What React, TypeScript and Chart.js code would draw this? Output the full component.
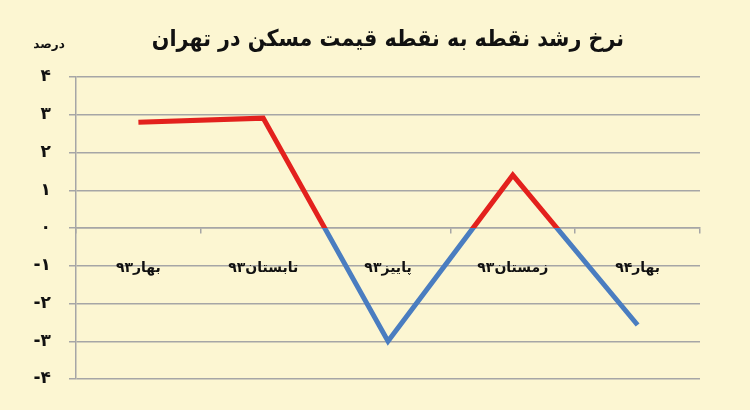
import { useEffect, useRef } from 'react';
import { Chart, registerables } from 'chart.js';

Chart.register(...registerables);

const title = 'نرخ رشد نقطه به نقطه قیمت مسکن در تهران';
const unitLabel = 'درصد';
const quarters = ['بهار۹۳', 'تابستان۹۳', 'پاییز۹۳', 'زمستان۹۳', 'بهار۹۴'];
const growth = [2.8, 2.91, -3.0, 1.4, -2.57];
const persianDigits = ['۰', '۱', '۲', '۳', '۴', '۵', '۶', '۷', '۸', '۹'];

const BG = '#fcf6d2';
const RED = '#e3211d';
const BLUE = '#4a7dc0';
const GRID = '#a6a6a6';
const FONT = "'DejaVu Sans', sans-serif";
const TITLE_FONT = "'DejaVu Sans Condensed', 'DejaVu Sans', sans-serif";

const toPersian = (v: number) => {
  const s = String(Math.abs(v)).replace(/[0-9]/g, d => persianDigits[+d]);
  return v < 0 ? '-' + s : s;
};

// title + unit text drawn relative to the plot area
const textPlugin = {
  id: 'headerText',
  afterDraw(chart: Chart) {
    const { ctx, chartArea } = chart;
    ctx.save();
    ctx.fillStyle = '#111';
    ctx.textAlign = 'center';
    ctx.textBaseline = 'middle';
    ctx.font = `bold 23px ${TITLE_FONT}`;
    ctx.fillText(title, (chartArea.left + chartArea.right) / 2, 40);
    ctx.font = `bold 12px ${FONT}`;
    ctx.fillText(unitLabel, 49, 45);
    ctx.restore();
  },
};

export default function App() {
  const chartRef = useRef<HTMLCanvasElement>(null);
  const chartInstance = useRef<Chart | null>(null);

  useEffect(() => {
    if (!chartRef.current) return;
    chartInstance.current?.destroy();
    const ctx = chartRef.current.getContext('2d');
    if (!ctx) return;

    chartInstance.current = new Chart(ctx, {
      type: 'line',
      data: {
        labels: quarters,
        datasets: [{
          data: growth,
          borderWidth: 5,
          pointRadius: 0,
          tension: 0,
          borderCapStyle: 'butt',
          borderJoinStyle: 'miter',
          borderColor: (c: any) => {
            const { chartArea, scales } = c.chart;
            if (!chartArea) return RED;
            const zero = scales.y.getPixelForValue(0);
            const g = c.chart.ctx.createLinearGradient(0, chartArea.top, 0, chartArea.bottom);
            const stop = (zero - chartArea.top) / (chartArea.bottom - chartArea.top);
            g.addColorStop(0, RED);
            g.addColorStop(stop, RED);
            g.addColorStop(stop, BLUE);
            g.addColorStop(1, BLUE);
            return g;
          },
        }],
      },
      options: {
        responsive: true,
        maintainAspectRatio: false,
        animation: false,
        layout: { padding: { top: 77, right: 50, bottom: 31, left: 0 } },
        plugins: {
          legend: { display: false },
          title: { display: false },
          tooltip: { enabled: false },
        },
        scales: {
          x: {
            position: { y: 0 },
            offset: true,
            grid: {
              display: true,
              offset: true,
              drawOnChartArea: false,
              drawTicks: true,
              tickLength: 5,
              color: GRID,
              lineWidth: 1.5,
            },
            border: { display: true, color: GRID, width: 1.5 },
            ticks: {
              color: '#111',
              padding: 27,
              maxRotation: 0,
              font: { family: FONT, size: 14, weight: 'bold' },
            },
          },
          y: {
            min: -4,
            max: 4,
            afterFit: (scale: any) => { scale.width = 76; },
            grid: {
              color: GRID,
              lineWidth: 1.5,
              tickLength: 7,
            },
            border: { display: true, color: GRID, width: 1.5 },
            ticks: {
              stepSize: 1,
              padding: 18,
              color: '#111',
              font: { family: FONT, size: 17, weight: 'bold' },
              callback: (v: any) => toPersian(Number(v)),
            },
          },
        },
      },
      plugins: [textPlugin],
    });

    return () => {
      chartInstance.current?.destroy();
    };
  }, []);

  return (
    <div style={{ position: 'fixed', left: 0, top: 0, width: 750, height: 410, background: BG }}>
      <canvas ref={chartRef} />
    </div>
  );
}
